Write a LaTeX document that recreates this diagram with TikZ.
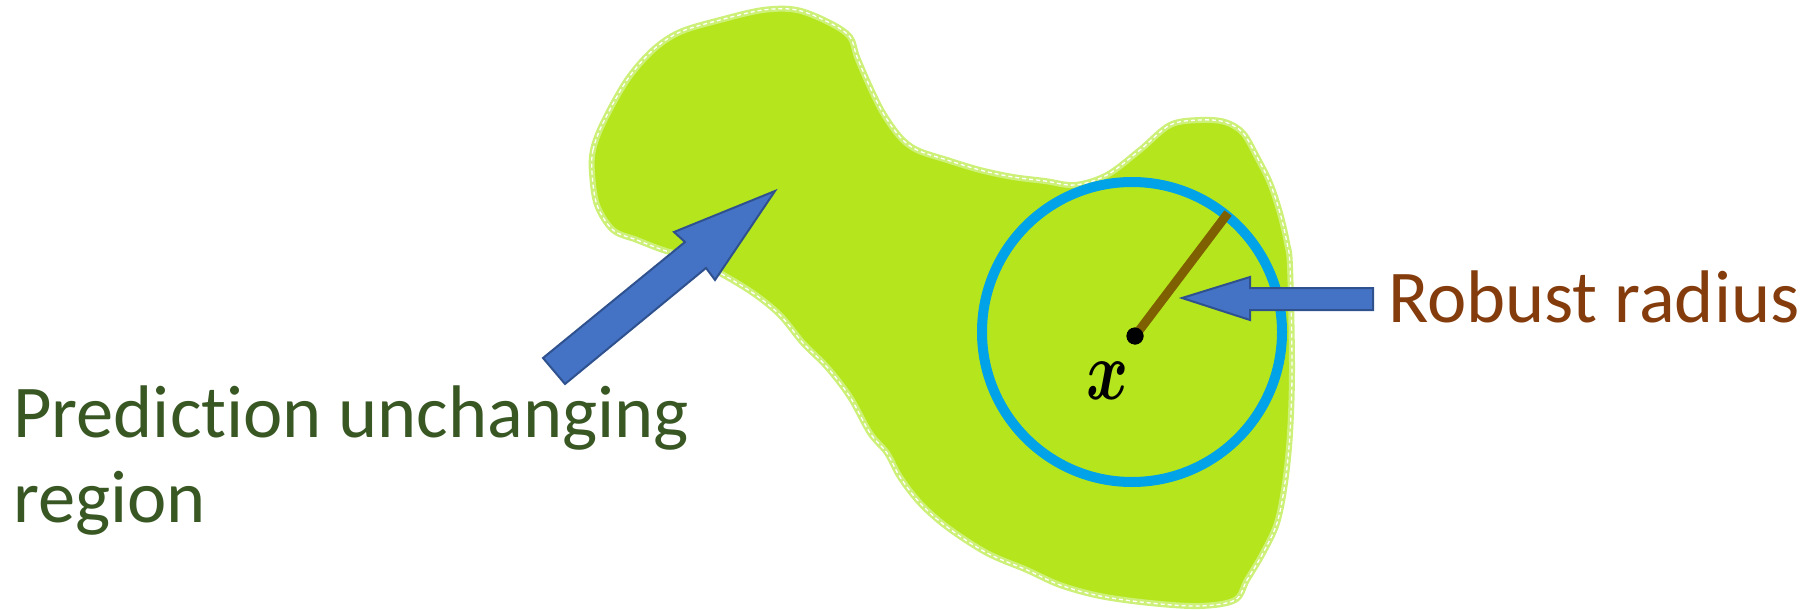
\documentclass[tikz,border=0pt]{standalone}
\usepackage{fontspec}
\setmainfont{Carlito}[Ligatures={NoCommon}]
\definecolor{blobfill}{RGB}{181,230,29}
\definecolor{blobhalo}{RGB}{205,240,120}
\definecolor{arrowfill}{RGB}{68,114,196}
\definecolor{arrowline}{RGB}{47,82,143}
\definecolor{circleblue}{RGB}{0,162,232}
\definecolor{radiusbrown}{RGB}{127,96,0}
\definecolor{textgreen}{RGB}{56,87,35}
\definecolor{textbrown}{RGB}{132,60,12}
\tikzset{
  blockarrow/.style={fill=arrowfill, draw=arrowline, line width=2pt, line join=miter},
  bigtext/.style={inner sep=0pt, anchor=base west, font=\fontsize{74.5}{85}\selectfont},
}
\begin{document}
\begin{tikzpicture}[x=1pt,y=-1pt]
\useasboundingbox (0,0) rectangle (1812,610);
% region blob
\def\blobpath{plot[smooth cycle, tension=0.55] coordinates {
 (592,173) (593,150) (603,123) (627,80) (653,50) (680,32) (720,20) (763,10) (797,10)
 (830,23) (850,37) (857,57) (870,87) (883,113) (900,137) (917,150) (947,160) (980,170)
 (1013,177) (1045,181) (1075,185) (1107,175) (1140,150) (1170,125) (1200,120) (1225,122)
 (1243,133) (1257,157) (1270,183) (1280,213) (1287,243) (1290,267) (1292,367) (1290,433)
 (1285,483) (1277,523) (1263,553) (1247,580) (1235,600) (1200,606) (1150,603) (1100,596)
 (1060,585) (1027,570) (987,553) (947,527) (920,503) (900,477) (887,453) (870,433)
 (850,397) (827,367) (803,343) (780,315) (753,293) (720,273) (690,258) (663,250)
 (637,240) (613,230) (597,205)}}
\fill[blobfill] \blobpath;
\draw[blobhalo, line width=6pt] \blobpath;
\draw[white, line width=1.3pt, dash pattern=on 4pt off 3pt] \blobpath;
% robustness circle
\coordinate (c) at (1132,332);
\draw[circleblue, line width=10pt] (c) circle[radius=150];
% radius
\coordinate (rim) at (1228,213);
\node[circle, fill=black, minimum size=17pt, inner sep=0pt] (xdot) at (1135,336) {};
\draw[radiusbrown, line width=9pt] (xdot.center) -- (rim);
\fill[black] (xdot.center) circle[radius=8.5];
\node[inner sep=0pt] (xlab) at (1108,381) {\scalebox{6.4}[8.4]{\boldmath$x$}};
% labels
\node[bigtext, text=textbrown] (rr) at (1388,322) {Robust radius};
\node[bigtext, text=textgreen] (pu1) at (13,437) {Prediction unchanging};
\node[bigtext, text=textgreen] (pu2) at (13,522) {region};
% block arrow to region
\coordinate (t1) at (775,191);
\draw[blockarrow] (t1) -- (674,232) -- (685,242) -- (543,358) -- (565,384) -- (706,268) -- (715,280) -- cycle;
% block arrow to radius
\coordinate (t2) at (1182,298);
\draw[blockarrow] (t2) -- (1250,277) -- (1250,288) -- (1373,288) -- (1373,310) -- (1250,310) -- (1250,320) -- cycle;
\end{tikzpicture}
\end{document}
